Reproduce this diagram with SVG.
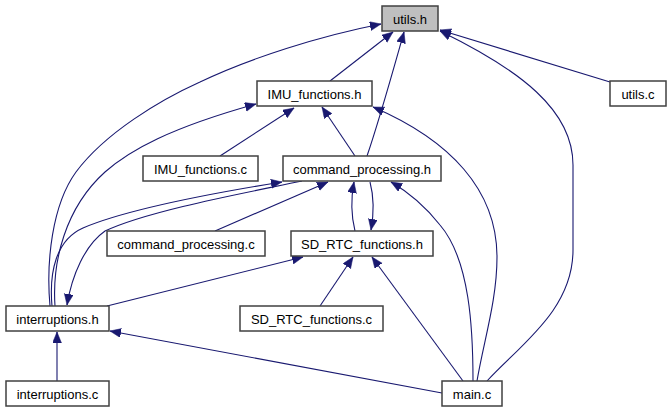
<svg xmlns="http://www.w3.org/2000/svg" width="672" height="413" viewBox="0 0 672 413">
<defs>
<style>
.node rect{fill:#ffffff;stroke:#404040;stroke-width:1.5}
.node.hl rect{fill:#bfbfbf}
.node text{font-family:"Liberation Sans",Arial,Helvetica,sans-serif;font-size:13px;fill:#000000;text-anchor:middle}
.edges path{fill:none;stroke:#191970;stroke-width:1.1;marker-end:url(#arr)}
</style>
<marker id="arr" markerUnits="userSpaceOnUse" markerWidth="12" markerHeight="10" refX="11" refY="4.5" orient="auto">
<path d="M0,0 L11,4.5 L0,9 z" fill="#191970" stroke="#191970" stroke-width="0.5"/>
</marker>
</defs>
<rect width="672" height="413" fill="#ffffff"/>
<g class="edges" id="edges">
<path id="e1" d="M330,81 L393,32"/>
<path id="e2" d="M367,156 C380,118 396,60 404,32"/>
<path id="e3" d="M50,306 C46,262 52,205 76,172 C105,133 160,100 200,82 C250,58 320,36 381,24"/>
<path id="e4" d="M487,381 C520,345 573,310 573,250 L573,165 C573,110 520,70 440,31"/>
<path id="e5" d="M610,82 L440,30"/>
<path id="e6" d="M220,156 L294,108"/>
<path id="e7" d="M355,156 L322,107"/>
<path id="e8" d="M477,381 C484,340 497,300 497,257 C497,190 450,140 373,107"/>
<path id="e9" d="M55,306 C52,262 65,208 105,172 C130,150 170,128 256,104"/>
<path id="e10" d="M52,306 C49,272 56,240 83,228 C130,208 220,192 282,182"/>
<path id="e11" d="M302,181 C250,192 150,210 105,231 C85,245 72,275 67,305"/>
<path id="e12" d="M215,231 L328,182"/>
<path id="e13" d="M355,231 C351,215 351,198 354,182"/>
<path id="e14" d="M370,182 C374,197 374,213 371,230"/>
<path id="e15" d="M473,381 C473,330 470,260 440,225 C425,206 410,193 391,182"/>
<path id="e16" d="M107,306 L303,257"/>
<path id="e17" d="M320,306 L353,257"/>
<path id="e18" d="M463,381 L372,257"/>
<path id="e19" d="M442,393 L110,331"/>
<path id="e20" d="M57,381 L57,332"/>
</g>
<g class="node hl" id="n_utils_h"><rect x="382" y="6" width="56" height="25"/><text x="410" y="24">utils.h</text></g>
<g class="node" id="n_utils_c"><rect x="610" y="81" width="56" height="25"/><text x="638" y="99">utils.c</text></g>
<g class="node" id="n_imu_h"><rect x="257" y="81" width="115" height="25"/><text x="314.5" y="99">IMU_functions.h</text></g>
<g class="node" id="n_imu_c"><rect x="143" y="156" width="115" height="25"/><text x="200.5" y="174">IMU_functions.c</text></g>
<g class="node" id="n_cmd_h"><rect x="283" y="156" width="158" height="25"/><text x="362" y="174">command_processing.h</text></g>
<g class="node" id="n_cmd_c"><rect x="107" y="231" width="158" height="25"/><text x="186" y="249">command_processing.c</text></g>
<g class="node" id="n_sd_h"><rect x="291" y="231" width="142" height="25"/><text x="362" y="249">SD_RTC_functions.h</text></g>
<g class="node" id="n_sd_c"><rect x="240" y="306" width="143" height="25"/><text x="311.5" y="324">SD_RTC_functions.c</text></g>
<g class="node" id="n_int_h"><rect x="6" y="306" width="103" height="25"/><text x="57.5" y="324">interruptions.h</text></g>
<g class="node" id="n_int_c"><rect x="6" y="381" width="103" height="25"/><text x="57.5" y="399">interruptions.c</text></g>
<g class="node" id="n_main_c"><rect x="442" y="381" width="60" height="25"/><text x="472" y="399">main.c</text></g>
</svg>
